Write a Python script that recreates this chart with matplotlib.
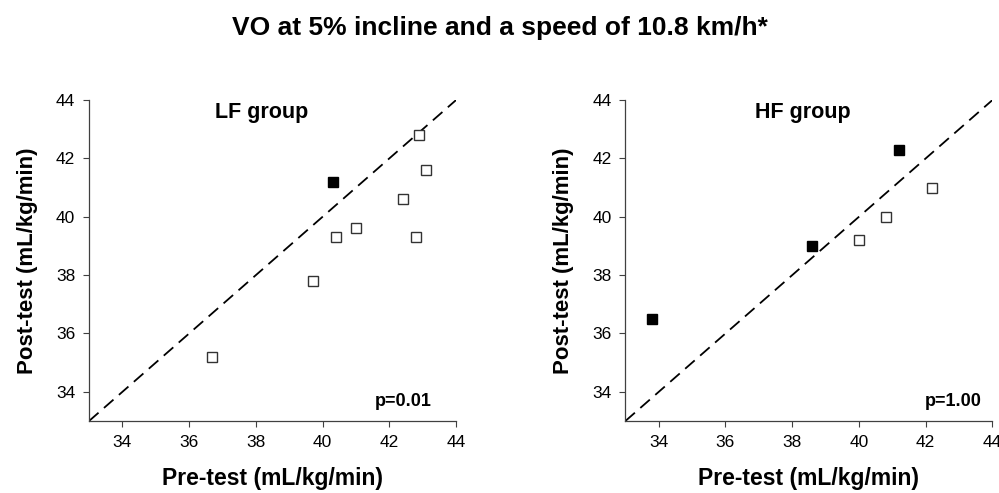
import matplotlib.pyplot as plt

plt.rcParams['font.family'] = ['Liberation Sans', 'DejaVu Sans']

# LF group
lf_open_pre = [36.7, 39.7, 40.4, 41.0, 42.4, 42.8, 42.9, 43.1]
lf_open_post = [35.2, 37.8, 39.3, 39.6, 40.6, 39.3, 42.8, 41.6]
lf_fill_pre = [40.3]
lf_fill_post = [41.2]

# HF group
hf_open_pre = [40.0, 40.8, 42.2]
hf_open_post = [39.2, 40.0, 41.0]
hf_fill_pre = [33.8, 38.6, 41.2]
hf_fill_post = [36.5, 39.0, 42.3]

ticks = [34, 36, 38, 40, 42, 44]
groups = ['LF group', 'HF group']
pvals = ['p=0.01', 'p=1.00']

fig = plt.figure(figsize=(9.99, 4.93), dpi=100)
ax1 = fig.add_axes([0.0891, 0.146, 0.3674, 0.651])
ax2 = fig.add_axes([0.626, 0.146, 0.3674, 0.651])

data = [
    (lf_open_pre, lf_open_post, lf_fill_pre, lf_fill_post),
    (hf_open_pre, hf_open_post, hf_fill_pre, hf_fill_post),
]
title_x = [0.47, 0.484]
p_x = [0.935, 0.972]

spine_col = '#404040'
for i, (ax, (op, opo, fp, fpo)) in enumerate(zip([ax1, ax2], data)):
    ax.plot([33, 44], [33, 44], linestyle=(0, (7, 4)), color='black', lw=1.3, zorder=1)
    ax.plot(op, opo, 's', ms=7.5, mfc='white', mec='#333333', mew=1.0, linestyle='none', zorder=3)
    ax.plot(fp, fpo, 's', ms=7.5, mfc='black', mec='black', mew=1.0, linestyle='none', zorder=3)
    ax.set_xlim(33, 44)
    ax.set_ylim(33, 44)
    ax.set_xticks(ticks)
    ax.set_yticks(ticks)
    ax.tick_params(direction='out', length=4, width=0.8, color=spine_col,
                   labelsize=12.5, pad=6)
    for s in ['top', 'right']:
        ax.spines[s].set_visible(False)
    for s in ['left', 'bottom']:
        ax.spines[s].set_color(spine_col)
        ax.spines[s].set_linewidth(0.9)
    ax.set_xlabel('Pre-test (mL/kg/min)', fontsize=16.5, fontweight='bold', labelpad=12)
    ax.set_ylabel('Post-test (mL/kg/min)', fontsize=16, fontweight='bold', labelpad=13)
    ax.text(title_x[i], 0.995, groups[i], transform=ax.transAxes, ha='center', va='top',
            fontsize=15.5, fontweight='bold')
    ax.text(p_x[i], 0.062, pvals[i], transform=ax.transAxes, ha='right', va='center',
            fontsize=13, fontweight='bold')

fig.text(0.5, 0.943, 'VO at 5% incline and a speed of 10.8 km/h*', ha='center', va='center',
         fontsize=19, fontweight='bold')

fig.savefig('out.png', dpi=100)
